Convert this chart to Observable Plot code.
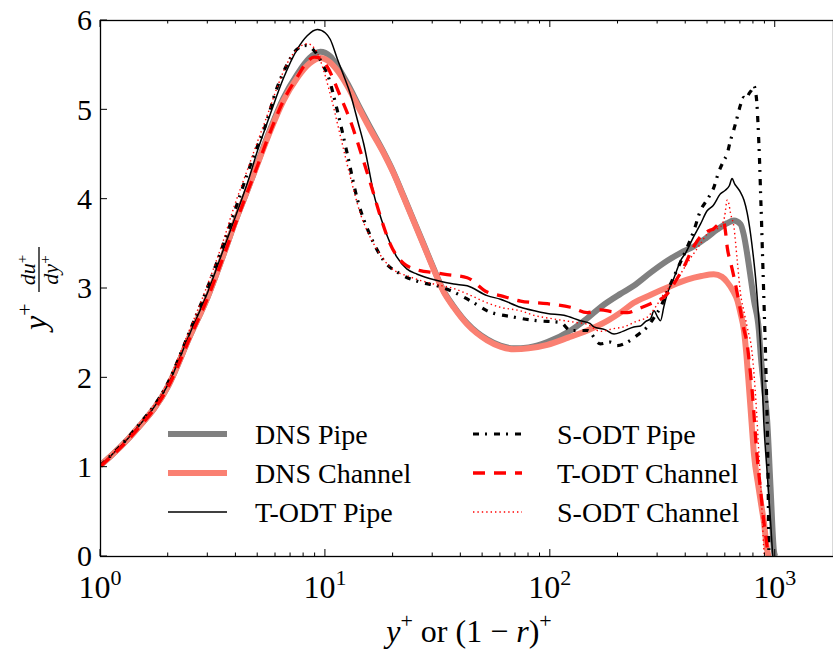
<!DOCTYPE html>
<html><head><meta charset="utf-8">
<script src="https://cdn.jsdelivr.net/npm/d3@7"></script>
<script src="https://cdn.jsdelivr.net/npm/@observablehq/plot@0.6"></script>
<style>body{margin:0;background:#fff}</style>
</head><body><div id="chart"></div>
<script>
(function () {
const FONT = "'Liberation Serif', 'Times New Roman', serif";

// DNS Pipe
const dnsPipeX = [1,1.41,2,2.5,3,3.5,4,4.5,5,5.7,6.5,7.5,8.5,9.5,10.5,11.3,12.5,14.3,16,18.2,20,22.3,25,27.4,30,33.6,37.2,42.7,52.4,60,68.8,80,97,123,145,167,205,235,280,331,380,434,490,552,610,655,701,725,750,780,804,846,861,890,921,953,986,1000];
const dnsPipeY = [1.02,1.39,1.91,2.47,2.91,3.36,3.77,4.1,4.41,4.79,5.13,5.40,5.58,5.65,5.60,5.49,5.30,5.01,4.78,4.52,4.31,4.03,3.73,3.49,3.25,2.97,2.80,2.61,2.43,2.36,2.33,2.34,2.40,2.53,2.66,2.79,2.94,3.03,3.18,3.31,3.40,3.47,3.56,3.66,3.73,3.76,3.72,3.60,3.39,3.10,2.87,2.53,2.27,1.90,1.52,0.78,0.07,0];

// DNS Channel
const dnsChanX = [1,1.41,2,2.5,3,3.5,4,4.5,5,5.7,6.5,7.5,8.5,9.5,10.5,11.3,12.5,14.3,16,18.2,20,22.3,25,27.4,30,33.6,37.2,42.7,52.4,60,68.8,80,97,120,146,180,205,235,280,331,406,470,533,580,612,650,678,700,726,745,764,785,804,840,870,889,921,934];
const dnsChanY = [1.02,1.39,1.91,2.47,2.91,3.36,3.77,4.1,4.40,4.77,5.10,5.36,5.52,5.58,5.53,5.44,5.27,4.99,4.76,4.51,4.30,4.02,3.72,3.48,3.24,2.96,2.79,2.60,2.42,2.35,2.32,2.33,2.37,2.45,2.53,2.64,2.73,2.84,2.93,3.01,3.10,3.14,3.16,3.13,3.07,2.97,2.87,2.73,2.53,2.25,1.90,1.50,1.15,0.80,0.55,0.40,0.07,0];

// T-ODT Pipe
const todtPipeX = [1,1.41,2,2.5,3,3.5,4,4.5,5,5.7,6.5,7.5,8.3,9.2,10,10.5,11.3,12.2,12.9,14,14.8,15.6,16.4,17.3,18.2,20.8,23,25.6,31.4,37.2,42.7,52.4,60,73.7,85,97,115,136,150,156,175,192,210,235,252,265,279,289,300,309,320,331,355,379,400,434,465,498,530,571,600,625,643,660,678,700,726,750,777,800,817,840,861,875,889,920,953,975];
const todtPipeY = [1.02,1.40,1.93,2.50,2.96,3.42,3.82,4.18,4.55,4.96,5.35,5.68,5.83,5.90,5.86,5.79,5.57,5.35,5.18,4.85,4.62,4.34,4.06,3.86,3.69,3.35,3.22,3.16,3.09,3.05,3.03,2.92,2.88,2.79,2.75,2.72,2.70,2.64,2.61,2.57,2.54,2.49,2.52,2.57,2.58,2.63,2.66,2.75,2.68,2.64,2.80,2.94,3.12,3.31,3.40,3.58,3.72,3.87,3.93,4.06,4.10,4.15,4.23,4.17,4.13,4.08,3.99,3.85,3.61,3.35,3.13,2.75,2.34,1.95,1.52,0.95,0.40,0];

// S-ODT Pipe
const sodtPipeX = [1,1.41,2,2.5,3,3.5,3.92,4.49,5,5.32,6.1,6.76,7.5,8.2,9.0,9.85,10.2,11.3,12.5,13.8,15.9,18.2,21.6,26.5,31.4,37.2,45,52.4,68.8,86.6,111,123,146,167,185,198,227,250,270,290,309,330,354,380,406,435,465,500,533,560,590,610,633,655,678,700,726,745,764,785,804,818,829,838,846,854,861,868,875,882,889,897,904,912,921,930,937,940];
const sodtPipeY = [1.02,1.41,1.95,2.53,3.02,3.48,3.84,4.28,4.60,4.77,5.25,5.51,5.68,5.72,5.65,5.48,5.40,4.99,4.51,4.02,3.58,3.31,3.16,3.07,3.03,2.96,2.85,2.75,2.68,2.64,2.62,2.53,2.53,2.38,2.40,2.36,2.42,2.50,2.57,2.68,2.79,2.96,3.13,3.30,3.46,3.65,3.87,4.00,4.13,4.30,4.43,4.50,4.66,4.78,4.92,5.05,5.14,5.12,5.18,5.22,5.27,5.20,5.07,4.85,4.62,4.35,4.06,3.80,3.50,3.22,2.94,2.62,2.34,1.95,1.52,0.80,0.07,0];

// T-ODT Channel
const todtChanX = [1,1.41,2,2.5,3,3.5,4,4.5,5,5.7,6.5,7.5,8.2,8.9,9.5,10.2,11.7,12.9,14.3,15.9,17.6,19.4,22.3,26.4,30,33.6,42.7,52.4,60,73.7,97,123,146,167,190,220,250,279,331,360,392,430,465,500,533,560,590,600,612,635,655,680,701,725,750,765,790,829,860,889,921,930];
const todtChanY = [1.01,1.38,1.90,2.45,2.90,3.34,3.74,4.08,4.38,4.76,5.10,5.37,5.52,5.59,5.58,5.48,5.14,4.88,4.54,4.17,3.80,3.50,3.28,3.20,3.18,3.16,3.12,2.96,2.92,2.86,2.83,2.79,2.73,2.76,2.74,2.73,2.78,2.83,2.94,3.08,3.24,3.45,3.58,3.64,3.67,3.72,3.74,3.65,3.46,3.28,3.13,2.93,2.75,2.55,2.38,2.20,1.85,1.15,0.75,0.40,0.10,0];

// S-ODT Channel
const sodtChanX = [1,1.41,2,2.5,3,3.5,3.92,4.5,5,5.5,6.1,6.76,7.5,8.3,9.0,9.5,10.5,11.7,12.9,14.3,16.4,19.4,23.8,30.3,37.2,42.7,52.4,60,73.7,84.5,103,130,146,167,190,212,240,270,295,320,350,379,405,434,465,498,540,571,595,612,622,633,655,678,701,725,750,790,820,846,870,889,895];
const sodtChanY = [1.02,1.41,1.96,2.55,3.05,3.52,3.91,4.33,4.65,4.93,5.25,5.52,5.68,5.74,5.68,5.55,5.18,4.69,4.25,3.84,3.50,3.24,3.13,3.05,3.00,2.94,2.84,2.79,2.75,2.70,2.66,2.62,2.60,2.52,2.55,2.57,2.63,2.68,2.80,2.94,3.05,3.16,3.28,3.39,3.50,3.61,3.66,3.69,3.80,3.99,3.95,3.84,3.69,3.31,2.94,2.75,2.57,2.27,1.75,1.15,0.60,0.10,0];

const seriesNames = ["DNS Pipe","DNS Channel","T-ODT Pipe","S-ODT Pipe","T-ODT Channel","S-ODT Channel"];
const xTickValues = [1,10,100,1000];
const xTickExponents = ["0","1","2","3"];
const yTickValues = [0,1,2,3,4,5,6];

const series = [
  {name: seriesNames[0], x: dnsPipeX, y: dnsPipeY, stroke: "#808080", width: 6, dash: null},
  {name: seriesNames[1], x: dnsChanX, y: dnsChanY, stroke: "#fa8072", width: 6, dash: null},
  {name: seriesNames[2], x: todtPipeX, y: todtPipeY, stroke: "#000000", width: 1.5, dash: null},
  {name: seriesNames[3], x: sodtPipeX, y: sodtPipeY, stroke: "#000000", width: 3.2, dash: "6,6,2,7"},
  {name: seriesNames[4], x: todtChanX, y: todtChanY, stroke: "#ff0000", width: 3.3, dash: "12,9"},
  {name: seriesNames[5], x: sodtChanX, y: sodtChanY, stroke: "#ff0000", width: 1.4, dash: "1.4,3"}
];

const marks = series.map(s => Plot.line(s.x.map((x, i) => ({x, y: s.y[i]})), {
  x: "x", y: "y", stroke: s.stroke, strokeWidth: s.width, curve: "monotone-x",
  strokeDasharray: s.dash ?? undefined, strokeLinecap: "butt", strokeLinejoin: "round", clip: true
}));

const plot = Plot.plot({
  width: 833, height: 655,
  marginLeft: 100, marginRight: 0, marginTop: 20, marginBottom: 99,
  x: {type: "log", domain: [1, 1816], axis: null},
  y: {domain: [0, 6], axis: null},
  style: {background: "white"},
  marks: [...marks, Plot.frame({stroke: "black", strokeWidth: 1.3})]
});
document.getElementById("chart").appendChild(plot);

const xs = plot.scale("x"), ys = plot.scale("y");
const svg = d3.select(plot);
const yTop = ys.apply(6), yBottom = ys.apply(0), xLeft = xs.apply(1);
const g = svg.append("g").attr("stroke", "black").attr("stroke-width", 1);

const minor = [];
for (const v of xTickValues) for (let m = 2; m <= 9; m++) if (m * v <= 1816) minor.push(m * v);
for (const v of xTickValues) {
  const px = xs.apply(v);
  g.append("line").attr("x1", px).attr("x2", px).attr("y1", yBottom).attr("y2", yBottom - 7);
  g.append("line").attr("x1", px).attr("x2", px).attr("y1", yTop).attr("y2", yTop + 7);
}
for (const v of minor) {
  const px = xs.apply(v);
  g.append("line").attr("x1", px).attr("x2", px).attr("y1", yBottom).attr("y2", yBottom - 3.5);
  g.append("line").attr("x1", px).attr("x2", px).attr("y1", yTop).attr("y2", yTop + 3.5);
}
for (const v of yTickValues) {
  const py = ys.apply(v);
  g.append("line").attr("x1", xLeft).attr("x2", xLeft + 7).attr("y1", py).attr("y2", py);
}

const T = svg.append("g").attr("text-anchor", "start").attr("fill", "#000");
const txt = (parent) => parent.append("text").style("font-family", FONT);

xTickValues.forEach((v, i) => {
  const t = txt(T).attr("x", xs.apply(v)).attr("y", 598).attr("text-anchor", "middle").attr("font-size", 32);
  t.append("tspan").text("10");
  t.append("tspan").attr("dy", -13).attr("font-size", 22).text(xTickExponents[i]);
});
yTickValues.forEach(v => {
  txt(T).attr("x", 92).attr("y", ys.apply(v)).attr("dy", "0.34em")
    .attr("text-anchor", "end").attr("font-size", 30).text(String(v));
});

{
  const t = txt(T).attr("x", 469).attr("y", 642).attr("text-anchor", "middle").attr("font-size", 32);
  t.append("tspan").attr("font-style", "italic").text("y");
  t.append("tspan").attr("dy", -14).attr("font-size", 22).text("+");
  t.append("tspan").attr("dy", 14).text(" or (1 \u2212 ");
  t.append("tspan").attr("font-style", "italic").text("r");
  t.append("tspan").text(")");
  t.append("tspan").attr("dy", -14).attr("font-size", 22).text("+");
}

{
  const yl = T.append("g").attr("transform", "translate(46,330) rotate(-90)");
  const a = txt(yl).attr("x", 0).attr("y", 0).attr("font-size", 32);
  a.append("tspan").attr("font-style", "italic").text("y");
  a.append("tspan").attr("dy", -14).attr("font-size", 22).text("+");
  yl.append("line").attr("x1", 38).attr("x2", 83).attr("y1", -7).attr("y2", -7).attr("stroke", "#000").attr("stroke-width", 1.3);
  const n = txt(yl).attr("x", 60).attr("y", -11).attr("text-anchor", "middle").attr("font-size", 22);
  n.append("tspan").attr("font-style", "italic").text("du");
  n.append("tspan").attr("dy", -8).attr("font-size", 15).text("+");
  const d = txt(yl).attr("x", 60).attr("y", 12).attr("text-anchor", "middle").attr("font-size", 22);
  d.append("tspan").attr("font-style", "italic").text("dy");
  d.append("tspan").attr("dy", -8).attr("font-size", 15).text("+");
}

const rowsY = [434, 473, 512];
const cols = [{x1: 168, x2: 227, tx: 255}, {x1: 473, x2: 522, tx: 557}];
series.forEach((s, i) => {
  const c = cols[Math.floor(i / 3)], ry = rowsY[i % 3];
  const ln = svg.append("line").attr("x1", c.x1).attr("x2", c.x2).attr("y1", ry).attr("y2", ry)
    .attr("stroke", s.stroke).attr("stroke-width", s.width).attr("stroke-linecap", "butt");
  if (s.dash) ln.attr("stroke-dasharray", s.dash);
  txt(T).attr("x", c.tx).attr("y", ry + 10).attr("text-anchor", "start").attr("font-size", 28).text(s.name);
});
})();
</script>
</body></html>
